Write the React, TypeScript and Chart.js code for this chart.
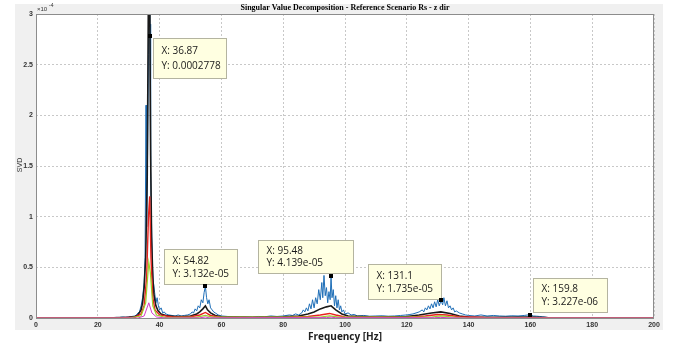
import React, { useEffect, useRef } from "react";
import { Chart, registerables } from "chart.js";

Chart.register(...registerables);

// Values in units of 1e-4
const blueFreq = [0, 24, 25, 26, 27, 28, 29, 30, 31, 32, 32.5, 33, 33.5, 34, 34.5, 35, 35.3, 35.6, 35.8, 36.1, 36.4, 36.6, 36.9, 37.1, 37.4, 37.7, 38, 38.4, 38.8, 39.2, 39.6, 40, 40.5, 41, 41.5, 42, 43, 44, 45, 46, 47, 48, 49, 50, 50.5, 51, 51.5, 52, 52.5, 53, 53.5, 54, 54.4, 54.82, 55.2, 55.6, 56, 56.5, 57, 57.5, 58, 59, 60, 62, 64, 66, 68, 70, 72, 74, 76, 78, 80, 82, 83, 84, 85, 86, 86.5, 87, 87.5, 88, 88.5, 89, 89.5, 90, 90.5, 91, 91.5, 92, 92.5, 92.8, 93.2, 93.6, 94, 94.4, 94.8, 95.2, 95.48, 95.8, 96.2, 96.6, 97, 97.4, 97.8, 98.2, 98.6, 99, 99.5, 100, 101, 102, 103, 104, 106, 108, 110, 112, 114, 116, 118, 120, 121, 122, 123, 124, 125, 125.5, 126, 126.5, 127, 127.5, 128, 128.5, 129, 129.5, 130, 130.5, 131.1, 131.6, 132, 132.5, 133, 133.5, 134, 134.5, 135, 135.5, 136, 137, 138, 139, 140, 142, 144, 146, 148, 150, 152, 154, 156, 158, 159.8, 161, 162, 163, 164, 165, 166, 200];
const blueVal = [0, 0, 0.004, 0.006, 0.005, 0.01, 0.008, 0.012, 0.015, 0.02, 0.03, 0.05, 0.06, 0.12, 0.2, 0.35, 0.6, 2.1, 0.9, 1.6, 2.6, 3.4, 2.9, 1.5, 0.9, 0.5, 0.35, 0.25, 0.15, 0.2, 0.12, 0.08, 0.1, 0.05, 0.06, 0.04, 0.03, 0.025, 0.02, 0.03, 0.02, 0.025, 0.03, 0.04, 0.06, 0.05, 0.09, 0.07, 0.12, 0.1, 0.18, 0.15, 0.25, 0.3132, 0.2, 0.14, 0.18, 0.1, 0.08, 0.06, 0.05, 0.03, 0.02, 0.015, 0.012, 0.01, 0.012, 0.01, 0.015, 0.012, 0.02, 0.015, 0.02, 0.03, 0.025, 0.04, 0.03, 0.05, 0.08, 0.06, 0.1, 0.07, 0.14, 0.09, 0.18, 0.1, 0.2, 0.14, 0.28, 0.18, 0.35, 0.2, 0.42, 0.22, 0.3, 0.15, 0.26, 0.18, 0.4139, 0.2, 0.28, 0.12, 0.22, 0.1, 0.18, 0.08, 0.12, 0.06, 0.08, 0.04, 0.05, 0.03, 0.035, 0.02, 0.025, 0.018, 0.02, 0.022, 0.018, 0.02, 0.025, 0.03, 0.035, 0.04, 0.05, 0.06, 0.08, 0.06, 0.1, 0.08, 0.12, 0.09, 0.14, 0.1, 0.16, 0.11, 0.18, 0.12, 0.1735, 0.13, 0.2, 0.12, 0.17, 0.1, 0.12, 0.08, 0.1, 0.06, 0.07, 0.05, 0.04, 0.03, 0.025, 0.02, 0.03, 0.02, 0.025, 0.02, 0.018, 0.022, 0.02, 0.025, 0.0323, 0.02, 0.018, 0.015, 0.012, 0.008, 0, 0];

const blackFreq = [0, 20, 25, 30, 32, 33, 34, 34.5, 35, 35.5, 36, 36.4, 36.6, 36.87, 37.1, 37.4, 37.8, 38.2, 38.8, 39.5, 40.5, 42, 45, 48, 50, 52, 53, 54, 54.82, 55.5, 56.5, 58, 60, 70, 80, 85, 88, 90, 92, 94, 95.5, 97, 99, 101, 110, 120, 124, 128, 131, 134, 137, 140, 150, 159.8, 165, 167, 200];
const blackVal = [0, 0, 0.003, 0.006, 0.012, 0.03, 0.08, 0.15, 0.3, 0.6, 1.4, 3.3, 3.6, 2.778, 1.6, 0.8, 0.4, 0.22, 0.12, 0.07, 0.04, 0.025, 0.015, 0.015, 0.02, 0.04, 0.06, 0.09, 0.12, 0.08, 0.05, 0.025, 0.012, 0.008, 0.012, 0.02, 0.04, 0.06, 0.09, 0.11, 0.12, 0.08, 0.04, 0.02, 0.01, 0.015, 0.03, 0.05, 0.06, 0.045, 0.02, 0.01, 0.008, 0.01, 0.004, 0, 0];

const redFreq = [0, 28, 32, 34, 35, 35.8, 36.4, 36.8, 37.2, 37.8, 38.5, 40, 44, 50, 53, 54.82, 56.5, 60, 80, 88, 92, 95, 97, 100, 120, 126, 130, 133, 137, 145, 165, 168, 200];
const redVal = [0, 0.002, 0.008, 0.04, 0.12, 0.4, 1.0, 1.2, 0.6, 0.2, 0.08, 0.03, 0.01, 0.012, 0.03, 0.055, 0.025, 0.006, 0.005, 0.015, 0.03, 0.045, 0.03, 0.01, 0.006, 0.02, 0.035, 0.03, 0.012, 0.005, 0.002, 0, 0];

const greenFreq = [0, 30, 34, 35.5, 36.5, 37, 37.8, 39, 42, 52, 54.82, 57, 92, 95, 98, 128, 131, 135, 140, 200];
const greenVal = [0, 0, 0.02, 0.15, 0.55, 0.45, 0.12, 0.03, 0.005, 0.008, 0.025, 0.008, 0.01, 0.02, 0.008, 0.01, 0.02, 0.01, 0, 0];

const magentaFreq = [0, 33, 35, 36.5, 37.5, 39, 42, 53, 54.82, 56, 94, 95.5, 97, 129, 131, 133, 140, 200];
const magentaVal = [0, 0, 0.02, 0.15, 0.05, 0.01, 0, 0.002, 0.01, 0.002, 0.004, 0.008, 0.003, 0.003, 0.006, 0.003, 0, 0];

const markX = [36.87, 54.82, 95.48, 131.1, 159.8];
const markY = [2.778, 0.3132, 0.4139, 0.1735, 0.03227];
const markLabelX = ["X: 36.87", "X: 54.82", "X: 95.48", "X: 131.1", "X: 159.8"];
const markLabelY = ["Y: 0.0002778", "Y: 3.132e-05", "Y: 4.139e-05", "Y: 1.735e-05", "Y: 3.227e-06"];

const xTicks = [0, 20, 40, 60, 80, 100, 120, 140, 160, 180, 200];
const yTicks = [0, 0.5, 1, 1.5, 2, 2.5, 3];

const titleText = "Singular Value Decomposition - Reference Scenario Rs - z dir";
const xTitle = "Frequency [Hz]";
const yTitle = "SVD";

const pts = (xs: number[], ys: number[]) => xs.map((x, i) => ({ x, y: ys[i] }));

// box offsets relative to marker [left, top, right, bottom]
const boxOff = [
  [3, 2, 76, 42],
  [-41, -37, 32, -2],
  [-73, -36, 22, -3],
  [-73, -36, 0, -1],
  [3, -37, 77, -3],
];

const decor = {
  id: "decor",
  beforeDraw(chart: any) {
    const { ctx, chartArea: a } = chart;
    ctx.save();
    ctx.fillStyle = "#ffffff";
    ctx.fillRect(0, 0, chart.width, chart.height);
    ctx.fillStyle = "#f0f0f0";
    ctx.fillRect(15, 4, 648, 326);
    ctx.fillStyle = "#ffffff";
    ctx.fillRect(a.left, a.top, a.right - a.left, a.bottom - a.top);
    ctx.restore();
  },
  afterDatasetsDraw(chart: any) {
    const { ctx, chartArea: a, scales } = chart;
    ctx.save();
    ctx.strokeStyle = "#8c8c8c";
    ctx.lineWidth = 1;
    ctx.strokeRect(a.left + 0.5, a.top + 0.5, a.right - a.left - 1, a.bottom - a.top);
    // title
    ctx.fillStyle = "#000";
    ctx.font = "bold 8px 'Liberation Serif'";
    ctx.textAlign = "center";
    ctx.textBaseline = "middle";
    ctx.fillText(titleText, (a.left + a.right) / 2, 8);
    // x title
    ctx.font = "bold 10px 'Open Sans'";
    ctx.fillStyle = "#222";
    ctx.fillText(xTitle, (a.left + a.right) / 2, 337);
    // y title
    ctx.save();
    ctx.translate(20, 165);
    ctx.rotate(-Math.PI / 2);
    ctx.font = "7px 'Liberation Sans'";
    ctx.fillStyle = "#333";
    ctx.fillText(yTitle, 0, 0);
    ctx.restore();
    // exponent
    ctx.textAlign = "left";
    ctx.font = "6px 'Liberation Sans'";
    ctx.fillStyle = "#333";
    ctx.fillText("\u00d710", a.left + 1, 9);
    ctx.font = "5px 'Liberation Sans'";
    ctx.fillText("-4", a.left + 13, 6);
    // markers and annotations
    for (let i = 0; i < markX.length; i++) {
      const mx = scales.x.getPixelForValue(markX[i]);
      const my = scales.y.getPixelForValue(markY[i]);
      const o = boxOff[i];
      const l = Math.round(mx + o[0]) + 0.5;
      const t = Math.round(my + o[1]) + 0.5;
      const r = Math.round(mx + o[2]) + 0.5;
      const b = Math.round(my + o[3]) + 0.5;
      ctx.fillStyle = "#ffffe1";
      ctx.fillRect(l, t, r - l, b - t);
      ctx.strokeStyle = "#b4b4a0";
      ctx.strokeRect(l, t, r - l, b - t);
      ctx.fillStyle = "#1a1a1a";
      ctx.font = "10px 'Open Sans'";
      ctx.textAlign = "left";
      ctx.textBaseline = "middle";
      const h = b - t;
      ctx.fillText(markLabelX[i], l + 8, t + h * 0.32);
      ctx.fillText(markLabelY[i], l + 8, t + h * 0.7);
      ctx.fillStyle = "#000";
      ctx.fillRect(Math.round(mx) - 2, Math.round(my) - 2, 4, 4);
    }
    ctx.restore();
  },
};

export default function App() {
  const ref = useRef<HTMLCanvasElement>(null);
  useEffect(() => {
    if (!ref.current) return;
    const line = (data: any, color: string, width: number, order: number) => ({
      data,
      borderColor: color,
      backgroundColor: color,
      borderWidth: width,
      pointRadius: 0,
      tension: 0,
      order,
    });
    const grid = {
      color: "#c8c8c8",
      lineWidth: 1,
      drawTicks: false,
      tickBorderDash: [2, 2],
    };
    const chart = new Chart(ref.current, {
      type: "line",
      data: {
        datasets: [
          line(pts(blueFreq, blueVal), "#1f6fb8", 1, 5),
          line(pts(blackFreq, blackVal), "#1a1a1a", 1.6, 4),
          line(pts(redFreq, redVal), "#e8231e", 1.4, 3),
          line(pts(greenFreq, greenVal), "#9bd22a", 1.2, 2),
          line(pts(magentaFreq, magentaVal), "#d43cc8", 1, 1),
        ] as any,
      },
      options: {
        responsive: false,
        animation: false,
        parsing: true as any,
        layout: { padding: { left: 0, top: 14, right: 35, bottom: 0 } },
        plugins: { legend: { display: false }, tooltip: { enabled: false }, title: { display: false } },
        scales: {
          x: {
            type: "linear",
            min: 0,
            max: 200,
            afterBuildTicks: (s: any) => { s.ticks = xTicks.map((v) => ({ value: v })); },
            afterFit: (s: any) => { s.height = 27; },
            grid: { ...grid },
            border: { display: false, dash: [2, 2] },
            ticks: { padding: 3, color: "#333", font: { size: 7, family: "'Liberation Sans'", weight: "bold" }, maxRotation: 0 },
          },
          y: {
            type: "linear",
            min: 0,
            max: 3,
            afterBuildTicks: (s: any) => { s.ticks = yTicks.map((v) => ({ value: v })); },
            afterFit: (s: any) => { s.width = 36; },
            grid: { ...grid },
            border: { display: false, dash: [2, 2] },
            ticks: { padding: 3, color: "#333", font: { size: 7, family: "'Liberation Sans'", weight: "bold" }, callback: (v: any) => String(v) },
          },
        } as any,
      },
      plugins: [decor],
    } as any);
    return () => chart.destroy();
  }, []);
  return (
    <div style={{ position: "absolute", left: 0, top: 0, width: 689, height: 345 }}>
      <canvas ref={ref} width={689} height={345} style={{ width: 689, height: 345 }} />
    </div>
  );
}
